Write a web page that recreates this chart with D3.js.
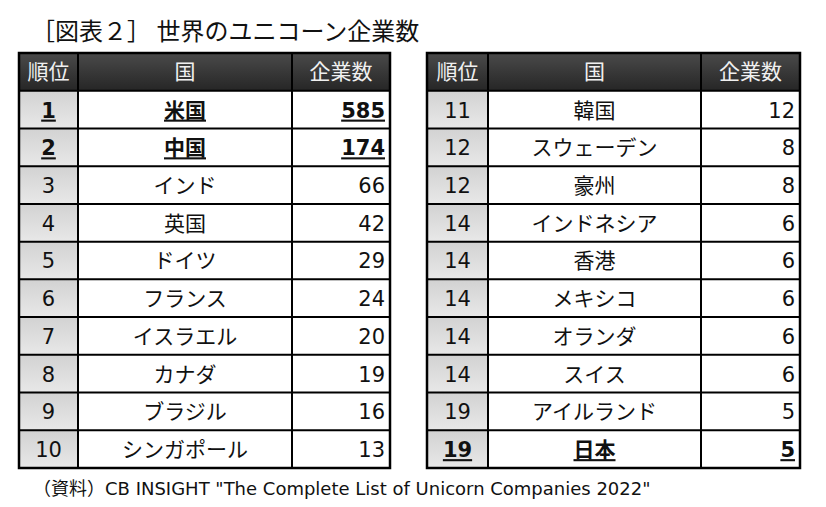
<!DOCTYPE html>
<html><head><meta charset="utf-8">
<script src="https://cdn.jsdelivr.net/npm/d3@7"></script>
<style>body{margin:0;background:#fff}</style>
</head><body>
<script>
const title = "［図表２］ 世界のユニコーン企業数";
const headers = ["順位", "国", "企業数"];
const ranks = [1,2,3,4,5,6,7,8,9,10,11,12,12,14,14,14,14,14,19,19];
const countries = ["米国","中国","インド","英国","ドイツ","フランス","イスラエル","カナダ","ブラジル","シンガポール",
  "韓国","スウェーデン","豪州","インドネシア","香港","メキシコ","オランダ","スイス","アイルランド","日本"];
const counts = [585,174,66,42,29,24,20,19,16,13,12,8,8,6,6,6,6,6,5,5];
const highlighted = ["米国","中国","日本"];
const source = "（資料）CB INSIGHT \"The Complete List of Unicorn Companies 2022\"";

const W = 826, H = 507;
const svg = d3.select("body").append("svg").attr("width", W).attr("height", H);
const defs = svg.append("defs");
const hg = defs.append("linearGradient").attr("id","hdr").attr("x1",0).attr("y1",0).attr("x2",0).attr("y2",1);
hg.append("stop").attr("offset","0%").attr("stop-color","#4a4a4a");
hg.append("stop").attr("offset","100%").attr("stop-color","#262626");
const rg = defs.append("linearGradient").attr("id","rk").attr("x1",0).attr("y1",0).attr("x2",0).attr("y2",1);
rg.append("stop").attr("offset","0%").attr("stop-color","#d2d2d2");
rg.append("stop").attr("offset","100%").attr("stop-color","#e8e8e8");

const JP = "'Noto Sans CJK JP', sans-serif";
const NUM = "'DejaVu Sans', sans-serif";

svg.append("text").attr("x", 31).attr("y", 40).attr("font-family", JP)
  .attr("font-size", 24).attr("fill", "#111").text(title);

const rows = d3.range(20).map(i => ({rank: ranks[i], country: countries[i], count: counts[i], hi: highlighted.includes(countries[i])}));
const tables = [
  {cols: [19, 78, 292, 390], data: rows.slice(0,10)},
  {cols: [427, 488, 701, 800], data: rows.slice(10)}
];
const y = d3.scaleBand().domain(d3.range(11)).range([53, 468]).padding(0);

tables.forEach(t => {
  const g = svg.append("g");
  const c = t.cols;
  g.append("rect").attr("x", c[0]).attr("y", y(0)).attr("width", c[3]-c[0]).attr("height", y.bandwidth()).attr("fill","url(#hdr)");
  headers.forEach((h, k) => {
    g.append("text").attr("x", (c[k]+c[k+1])/2).attr("y", y(0)+y.bandwidth()/2+7)
      .attr("text-anchor","middle").attr("font-family", JP).attr("font-size", 21).attr("fill","#f0f0f0").text(h);
  });
  const r = g.selectAll("g.row").data(t.data).join("g").attr("class","row")
    .attr("transform", (d,i) => `translate(0,${y(i+1)})`);
  r.append("rect").attr("x", c[0]).attr("width", c[1]-c[0]).attr("height", y.bandwidth()).attr("fill","url(#rk)");
  r.append("rect").attr("x", c[1]).attr("width", c[3]-c[1]).attr("height", y.bandwidth()).attr("fill","#fff");
  const bh = y.bandwidth();
  function addText(sel, xf, anchor, font, size, txt) {
    sel.append("text").attr("x", xf).attr("y", bh/2+8).attr("text-anchor", anchor)
      .attr("font-family", font).attr("font-size", size)
      .attr("font-weight", d => d.hi ? "bold" : "normal")
      .attr("text-decoration", d => d.hi ? "underline" : null)
      .attr("fill", "#111").text(txt);
  }
  addText(r, (c[0]+c[1])/2, "middle", NUM, 21, d => d.rank);
  addText(r, (c[1]+c[2])/2, "middle", JP, 21, d => d.country);
  addText(r, c[3]-5, "end", NUM, 21, d => d.count);
  d3.range(1, 11).forEach(i => {
    g.append("line").attr("x1", c[0]).attr("x2", c[3]).attr("y1", y(i)).attr("y2", y(i)).attr("stroke","#000").attr("stroke-width", 2);
  });
  [c[1], c[2]].forEach(xx => {
    g.append("line").attr("x1", xx).attr("x2", xx).attr("y1", y(0)).attr("y2", 468).attr("stroke","#000").attr("stroke-width", 2);
  });
  g.append("rect").attr("x", c[0]).attr("y", 53).attr("width", c[3]-c[0]).attr("height", 468-53)
    .attr("fill","none").attr("stroke","#000").attr("stroke-width", 2.5);
});

svg.append("text").attr("x", 33).attr("y", 495).attr("font-family", NUM + ", " + JP)
  .attr("font-size", 18).attr("fill", "#111").text(source);
</script>
</body></html>
